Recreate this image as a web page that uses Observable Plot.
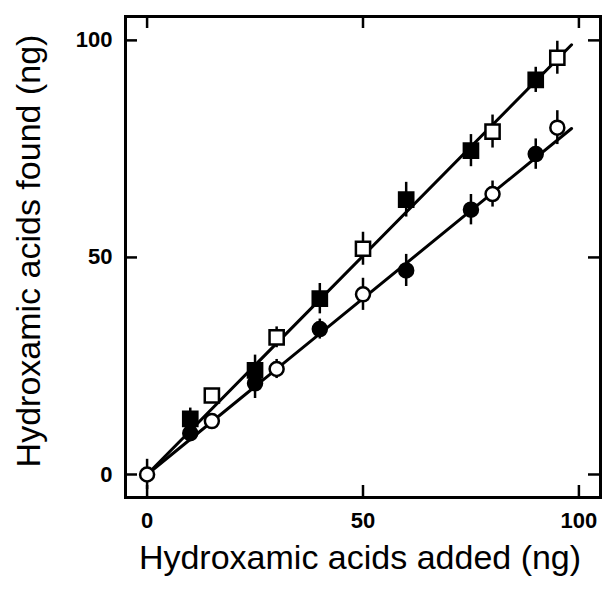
<!DOCTYPE html>
<html>
<head>
<meta charset="utf-8">
<script src="https://cdn.jsdelivr.net/npm/d3@7"></script>
<script src="https://cdn.jsdelivr.net/npm/@observablehq/plot@0.6"></script>
<style>
  html, body { margin: 0; padding: 0; background: #fff; }
  #chart svg { display: block; }
</style>
</head>
<body>
<div id="chart"></div>
<script>
// ---- Data ----
const xTicks = [0, 50, 100];
const yTicks = [0, 50, 100];
const xTitle = "Hydroxamic acids added (ng)";
const yTitle = "Hydroxamic acids found (ng)";

// filled squares
const fsX   = [10, 25, 40, 60, 75, 90];
const fsY   = [12.8, 24.0, 40.5, 63.3, 74.6, 90.9];
const fsErr = [2.5, 3.5, 3.5, 4.0, 3.7, 2.9];
// open squares
const osX   = [15, 30, 50, 80, 95];
const osY   = [18.2, 31.6, 52.0, 79.0, 96.0];
const osErr = [1.5, 2.4, 3.8, 3.8, 3.8];
// filled circles
const fcX   = [10, 25, 40, 60, 75, 90];
const fcY   = [9.5, 21.0, 33.5, 47.0, 61.0, 73.8];
const fcErr = [1.5, 3.5, 2.3, 3.7, 3.5, 3.5];
// open circles
const ocX   = [0, 15, 30, 50, 80, 95];
const ocY   = [0, 12.3, 24.3, 41.5, 64.6, 79.9];
const ocErr = [3.5, 1.0, 2.2, 3.7, 3.0, 3.9];

// fitted lines (end points)
const fitX     = [0, 98.3];
const fitUpper = [0, 99.0];
const fitLower = [0, 79.7];

// ---- Build tables ----
const series = (xs, ys, es, symbol, filled) =>
  xs.map((x, i) => ({x, y: ys[i], e: es[i], symbol, filled}));
const pts = [
  ...series(fsX, fsY, fsErr, "square", true),
  ...series(osX, osY, osErr, "square", false),
  ...series(fcX, fcY, fcErr, "circle", true),
  ...series(ocX, ocY, ocErr, "circle", false)
];
const fits = [
  ...fitX.map((x, i) => ({x, y: fitUpper[i], k: "upper"})),
  ...fitX.map((x, i) => ({x, y: fitLower[i], k: "lower"}))
];

const W = 602, H = 589;
const mL = 125, mR = 2, mT = 16, mB = 92;
const frameH = H - mT - mB;
const frameW = W - mL - mR;
const tickLen = 12;
const squares = pts.filter(d => d.symbol === "square");
const circles = pts.filter(d => d.symbol === "circle");
const tickFont = "'Liberation Sans', Arial, sans-serif";

const chart = Plot.plot({
  width: W,
  height: H,
  marginLeft: mL,
  marginRight: mR,
  marginTop: mT,
  marginBottom: mB,
  style: {background: "#fff", color: "#000", fontFamily: tickFont},
  x: {domain: [-5, 105], axis: null},
  y: {domain: [-5.3, 105.5], axis: null},
  marks: [
    Plot.frame({stroke: "#000", strokeWidth: 3}),
    // inward ticks on all four sides
    Plot.tickX(xTicks, {x: d => d, stroke: "#000", strokeWidth: 2.5, insetTop: frameH - tickLen}),
    Plot.tickX(xTicks, {x: d => d, stroke: "#000", strokeWidth: 2.5, insetBottom: frameH - tickLen}),
    Plot.tickY(yTicks, {y: d => d, stroke: "#000", strokeWidth: 2.5, insetRight: frameW - tickLen}),
    Plot.tickY(yTicks, {y: d => d, stroke: "#000", strokeWidth: 2.5, insetLeft: frameW - tickLen}),
    // tick labels
    Plot.text(xTicks, {x: d => d, text: d => String(d), frameAnchor: "bottom", lineAnchor: "middle", dy: 23, fontSize: 22, fontWeight: "bold", fill: "#000", textAnchor: "middle"}),
    Plot.text(yTicks, {y: d => d, text: d => String(d), frameAnchor: "left", lineAnchor: "middle", dx: -13, fontSize: 22, fontWeight: "bold", fill: "#000", textAnchor: "end"}),
    // axis titles
    Plot.text([xTitle], {frameAnchor: "bottom", text: d => d, textAnchor: "middle", lineAnchor: "middle", dx: -3, dy: 61, fontSize: 34, fill: "#000"}),
    Plot.text([yTitle], {frameAnchor: "left", text: d => d, textAnchor: "middle", lineAnchor: "middle", rotate: -90, dx: -96, dy: -6, fontSize: 34, fill: "#000"}),
    // fitted lines
    Plot.line(fits, {x: "x", y: "y", z: "k", stroke: "#000", strokeWidth: 3}),
    // error bars
    Plot.ruleX(pts, {x: "x", y1: d => d.y - d.e, y2: d => d.y + d.e, stroke: "#000", strokeWidth: 2.5}),
    // markers
    Plot.dot(squares, {x: "x", y: "y", symbol: "square", r: 8, fill: d => d.filled ? "#000" : "#fff", stroke: "#000", strokeWidth: 2.5}),
    Plot.dot(circles, {x: "x", y: "y", symbol: "circle", r: 7, fill: d => d.filled ? "#000" : "#fff", stroke: "#000", strokeWidth: 2.5})
  ]
});
document.getElementById("chart").appendChild(chart);
</script>
</body>
</html>
